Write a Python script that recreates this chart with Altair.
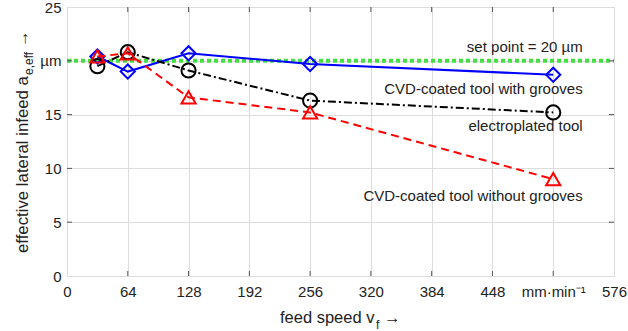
import altair as alt
import pandas as pd

# ---- data ----
feed = [32, 64, 128, 256, 512]
with_grooves = [20.4, 19.0, 20.7, 19.7, 18.7]
electroplated = [19.5, 20.8, 19.1, 16.3, 15.2]
without_grooves = [20.4, 20.7, 16.6, 15.2, 9.0]
set_point = 20

x_ticks = [0, 64, 128, 192, 256, 320, 384, 448, 512, 576]
y_ticks = [0, 5, 10, 15, 20, 25]

labels = ["set point = 20 µm", "CVD-coated tool with grooves",
          "electroplated tool", "CVD-coated tool without grooves"]
label_y = [21.3, 17.4, 13.9, 7.4]
label_x = [543, 543, 543, 543]

W, H = 547, 269
FONT = "Liberation Sans"

xs = alt.Scale(domain=[0, 576], nice=False, zero=False)
ys = alt.Scale(domain=[0, 25], nice=False, zero=False)

df = pd.DataFrame({"x": feed, "g": with_grooves, "e": electroplated, "w": without_grooves})

xaxis = alt.Axis(values=x_ticks, title=None, grid=True, gridColor="#dcdcdc",
                 domain=False, ticks=False, labelFontSize=15, labelPadding=8,
                 labelColor="#222", labelFlush=False, labelOverlap=False,
                 labelExpr="datum.value == 512 ? 'mm·min⁻¹' : datum.label")
yaxis = alt.Axis(values=y_ticks, title=None, grid=True, gridColor="#dcdcdc",
                 domain=False, ticks=False, labelFontSize=15, labelPadding=6,
                 labelColor="#222", labelFlush=False, labelOverlap=False,
                 labelExpr="datum.value == 20 ? 'µm' : datum.label")

base = alt.Chart(df)

grid_layer = base.mark_point(opacity=0).encode(
    x=alt.X("x:Q", scale=xs, axis=xaxis),
    y=alt.Y("g:Q", scale=ys, axis=yaxis),
)

sp = alt.Chart(pd.DataFrame({"a": [0], "b": [576], "y": [set_point]})).mark_rule(
    color="#44dd44", strokeWidth=4, strokeDash=[4, 3]
).encode(x=alt.X("a:Q", scale=xs), x2="b:Q", y=alt.Y("y:Q", scale=ys))

def series(col, color, dash, shape):
    line = base.mark_line(color=color, strokeWidth=2, **({"strokeDash": dash} if dash else {})).encode(
        x=alt.X("x:Q", scale=xs), y=alt.Y(f"{col}:Q", scale=ys))
    pts = base.mark_point(shape=shape, filled=False, color=color, strokeWidth=2,
                          size=200, opacity=1).encode(
        x=alt.X("x:Q", scale=xs), y=alt.Y(f"{col}:Q", scale=ys))
    return line + pts

blue = series("g", "#0000ff", None, "diamond")
black = series("e", "#000000", [8, 3, 2, 3], "circle")
red = series("w", "#ff0000", [8, 5], "triangle-up")

ann = alt.Chart(pd.DataFrame({"x": label_x, "y": label_y, "t": labels})).mark_text(
    align="right", baseline="middle", font=FONT, fontSize=15, color="#222"
).encode(x=alt.X("x:Q", scale=xs), y=alt.Y("y:Q", scale=ys), text="t:N")

# inner tick marks
xt = pd.DataFrame({"t": x_ticks[1:-1]})
yt = pd.DataFrame({"t": y_ticks[1:-1]})
tick_style = dict(color="#555", strokeWidth=1)
tb = alt.Chart(xt).mark_rule(**tick_style).encode(x=alt.X("t:Q", scale=xs), y=alt.value(H), y2=alt.value(H - 5))
tt = alt.Chart(xt).mark_rule(**tick_style).encode(x=alt.X("t:Q", scale=xs), y=alt.value(0), y2=alt.value(5))
tl = alt.Chart(yt).mark_rule(**tick_style).encode(y=alt.Y("t:Q", scale=ys), x=alt.value(0), x2=alt.value(5))
tr = alt.Chart(yt).mark_rule(**tick_style).encode(y=alt.Y("t:Q", scale=ys), x=alt.value(W), x2=alt.value(W - 5))

# axis titles (with subscripts)
one = pd.DataFrame({"k": [0]})
def txt(s, x, y, size=16.5, angle=0, align="left"):
    return alt.Chart(one).mark_text(text=s, font=FONT, fontSize=size, angle=angle,
                                    align=align, baseline="middle", color="#222").encode(
        x=alt.value(x), y=alt.value(y))

ytitle = (txt("effective lateral infeed a", 23 - 67, 253 - 7, size=16.8, angle=270)
          + txt("e,eff", 29 - 67, 75 - 7, size=12, angle=270)
          + txt("→", 23 - 67, 47 - 7, angle=270))
xtitle = (txt("feed speed v", 280 - 67, 318 - 7)
          + txt("f", 376 - 67, 325 - 7, size=12)
          + txt("→", 384 - 67, 318 - 7))

chart = alt.layer(grid_layer, sp, blue, black, red, ann, tb, tt, tl, tr, ytitle, xtitle).properties(
    width=W, height=H,
    autosize=alt.AutoSizeParams(type="none"),
    padding={"left": 67, "top": 7, "right": 14, "bottom": 55},
).configure_view(stroke="#666", strokeWidth=1).configure(font=FONT).configure_axis(labelFont=FONT)

chart.save("out.html", embed_options={"renderer": "svg", "actions": False})
